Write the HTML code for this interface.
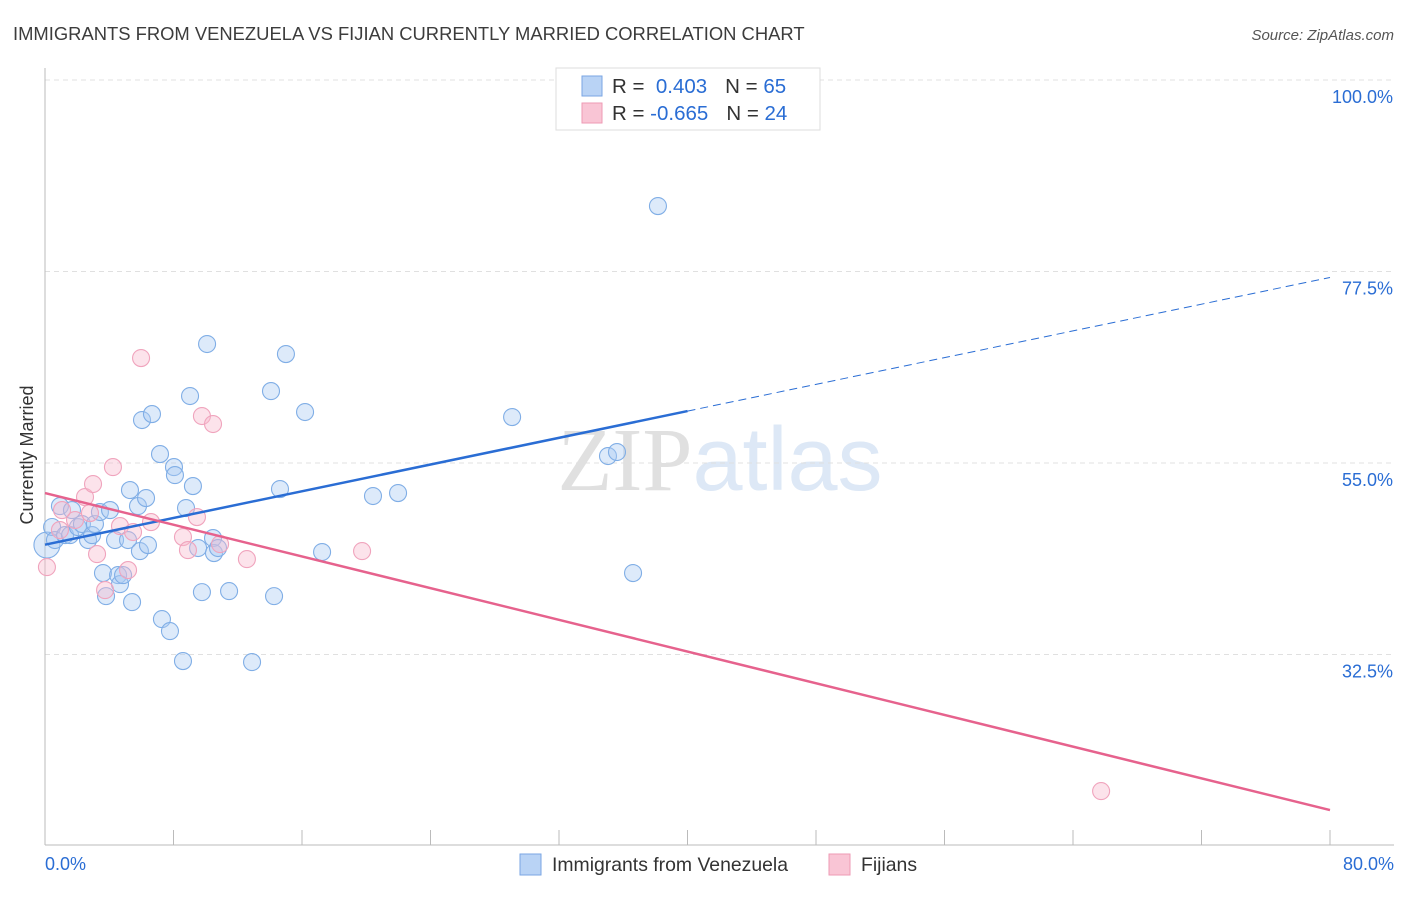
<!DOCTYPE html>
<html><head><meta charset="utf-8"><style>
body{margin:0;background:#fff;font-family:"Liberation Sans",sans-serif;}
svg text{font-family:"Liberation Sans",sans-serif;}
</style></head><body>
<svg id="chart" width="1406" height="892" xmlns="http://www.w3.org/2000/svg">
<text x="13" y="40" font-size="18.4" fill="#3c3c3c">IMMIGRANTS FROM VENEZUELA VS FIJIAN CURRENTLY MARRIED CORRELATION CHART</text>
<text x="1394" y="40" font-size="15" fill="#555" text-anchor="end" font-style="italic">Source: ZipAtlas.com</text>
<text x="720" y="490" font-size="90" text-anchor="middle" fill="#e4e4e4"><tspan font-family="Liberation Serif" fill="#e0e0e0">ZIP</tspan><tspan fill="#dde8f6">atlas</tspan></text>
<g id="grid"></g>
<g id="axes"></g>
<g id="marks"></g>
<text transform="translate(33,455) rotate(-90)" font-size="18" fill="#333" text-anchor="middle">Currently Married</text>
<g>
<rect x="556" y="68" width="264" height="62" fill="#fff" stroke="#ddd"/>
<rect x="582" y="76" width="20" height="20" fill="#b9d3f5" stroke="#7aa6e3"/>
<rect x="582" y="103" width="20" height="20" fill="#f9c5d5" stroke="#ee9ab4"/>
<text x="612" y="93" font-size="20.5" fill="#333">R = <tspan fill="#2a6dd4">&#160;0.403</tspan><tspan dx="18">N = </tspan><tspan fill="#2a6dd4">65</tspan></text>
<text x="612" y="120" font-size="20.5" fill="#333">R = <tspan fill="#2a6dd4">-0.665</tspan><tspan dx="18">N = </tspan><tspan fill="#2a6dd4">24</tspan></text>
</g>
<g>
<rect x="520" y="854" width="21" height="21" fill="#b9d3f5" stroke="#7aa6e3"/>
<text x="552" y="871" font-size="19.4" fill="#333">Immigrants from Venezuela</text>
<rect x="829" y="854" width="21" height="21" fill="#f9c5d5" stroke="#ee9ab4"/>
<text x="861" y="871" font-size="19.4" fill="#333">Fijians</text>
</g>
</svg>
<script>
const yTicks=[100,77.5,55,32.5];
const yTickLabels=["100.0%","77.5%","55.0%","32.5%"];
const xTickLabels=["0.0%","80.0%"];
const blueX=[0.12,0.44,0.62,0.93,1.25,1.56,1.68,2.05,2.30,2.68,2.93,3.11,3.42,3.61,3.80,4.05,4.36,4.55,4.67,4.86,5.17,5.29,5.42,5.79,5.91,6.04,6.29,6.41,6.66,7.16,7.28,7.78,8.03,8.09,8.59,8.78,9.03,9.21,9.53,9.77,10.09,10.46,10.52,10.77,11.46,12.89,14.07,14.26,14.63,15.00,16.19,17.25,20.42,21.98,29.08,35.05,35.61,36.61,38.16];
const blueY=[45.36,47.48,45.95,49.94,46.53,46.53,49.47,47.47,47.83,45.95,46.53,47.83,49.24,42.07,39.36,49.47,45.95,41.83,40.77,41.83,45.95,51.82,38.66,49.94,44.65,60.05,50.88,45.36,60.75,56.05,36.66,35.25,54.52,53.58,31.73,49.71,62.87,52.29,45.01,39.83,68.98,46.18,44.42,45.01,39.95,31.61,63.45,39.36,51.94,67.80,60.99,44.54,51.12,51.47,60.40,55.82,56.29,42.07,85.19];
const pinkX=[0.12,0.93,1.87,2.49,2.99,3.24,3.74,4.23,4.67,5.17,5.48,5.98,6.60,8.59,8.90,9.46,9.77,10.46,10.90,12.57,19.74,65.75,2.80,1.06];
const pinkY=[42.77,47.12,48.30,51.0,52.53,44.30,40.07,54.52,47.59,42.42,46.89,67.33,48.06,46.30,44.77,48.65,60.52,59.58,45.47,43.71,44.65,16.45,49.12,49.47];
const blueTrend=[45.4,0.3925];
const pinkTrend=[51.47,-0.4656];
const X=v=>45+v/80*1285, Y=v=>80+(100-v)/22.5*191.5;
const NS="http://www.w3.org/2000/svg";
function mk(p,t,a){const e=document.createElementNS(NS,t);for(const k in a)e.setAttribute(k,a[k]);document.getElementById(p).appendChild(e);return e;}
yTicks.forEach((t,i)=>{
 const g=mk('grid','line',{x1:45,x2:1394,y1:Y(t),y2:Y(t),stroke:'#e0e0e0','stroke-dasharray':'5,4'});
 
 
 const l=mk('axes','text',{x:1393,y:Y(t)+23,'font-size':18,fill:'#2a6dd4','text-anchor':'end'});l.textContent=yTickLabels[i];
 
 
});
const ax=mk('axes','line',{x1:45,x2:45,y1:68,y2:845,stroke:'#bbb'});


const bx=mk('axes','line',{x1:45,x2:1394,y1:845,y2:845,stroke:'#bbb'});


for(let i=1;i<=10;i++){const t=mk('axes','line',{x1:X(i*8),x2:X(i*8),y1:830,y2:845,stroke:'#bbb'});
 
 }
[[0,45,'start'],[80,1394,'end']].forEach((d,i)=>{const t=mk('axes','text',{x:d[1],y:870,'font-size':18,fill:'#2a6dd4','text-anchor':d[2]});t.textContent=xTickLabels[i];
 
 });
blueX.forEach((x,i)=>{const c=mk('marks','circle',{cx:X(x),cy:Y(blueY[i]),r:i==0?13:8.5,fill:'rgba(170,202,242,0.4)',stroke:'#80aee6','stroke-width':1.1});
 
 });
pinkX.forEach((x,i)=>{const c=mk('marks','circle',{cx:X(x),cy:Y(pinkY[i]),r:8.5,fill:'rgba(248,186,205,0.4)',stroke:'#f0a4bd','stroke-width':1.1});
 
 });
const bl=mk('marks','line',{x1:X(0),y1:Y(blueTrend[0]),x2:X(40),y2:Y(blueTrend[0]+blueTrend[1]*40),stroke:'#2a6dd4','stroke-width':2.5});


const bd=mk('marks','line',{x1:X(40),y1:Y(blueTrend[0]+blueTrend[1]*40),x2:X(80),y2:Y(blueTrend[0]+blueTrend[1]*80),stroke:'#2a6dd4','stroke-width':1,'stroke-dasharray':'8,5'});


const pl=mk('marks','line',{x1:X(0),y1:Y(pinkTrend[0]),x2:X(80),y2:Y(pinkTrend[0]+pinkTrend[1]*80),stroke:'#e6628d','stroke-width':2.5});


</script>
</body></html>
